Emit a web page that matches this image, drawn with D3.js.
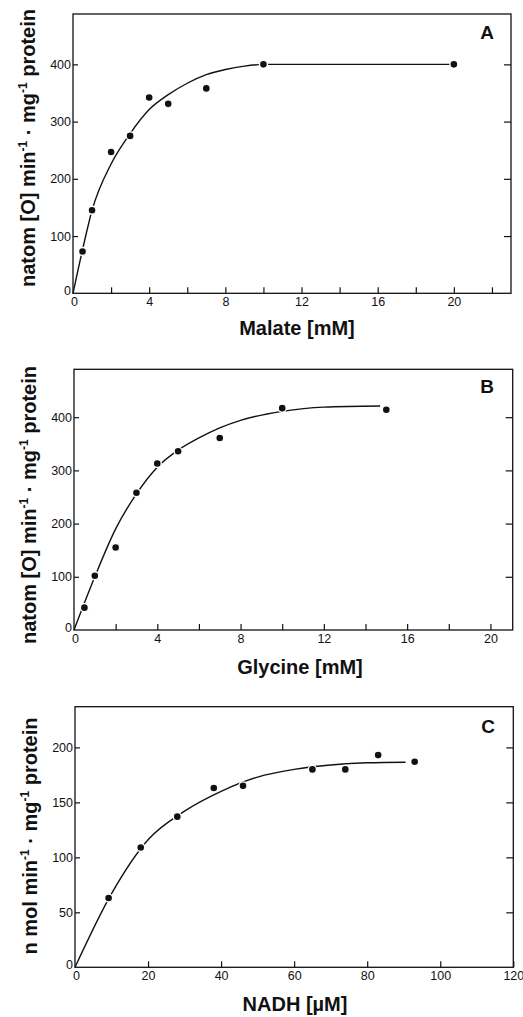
<!DOCTYPE html>
<html>
<head>
<meta charset="utf-8">
<script src="https://cdn.jsdelivr.net/npm/d3@7"></script>
<style>
  html, body { margin: 0; padding: 0; background: #fff; }
  svg { display: block; }
  text { font-family: "Liberation Sans", Arial, sans-serif; fill: #111; }
</style>
</head>
<body>
<svg id="chart" width="523" height="1017"></svg>
<script>
// ---- Data ----
// Panel A: Malate
const malateX = [0.5, 1, 2, 3, 4, 5, 7, 10, 20];
const malateY = [73, 145, 247, 275, 342, 331, 358, 400, 400];
const malateFitX = [0, 0.5, 1, 2, 3, 4, 5, 6, 7, 8, 9, 10, 20];
const malateFitY = [0, 76, 145, 226, 279, 321, 347, 367, 382, 391, 397, 400, 400];
const malateXTicks = [0, 4, 8, 12, 16, 20];
const malateXMinor = [2, 6, 10, 14, 18, 22];
const malateYTicks = [0, 100, 200, 300, 400];

// Panel B: Glycine
const glycineX = [0.5, 1, 2, 3, 4, 5, 7, 10, 15];
const glycineY = [42, 102, 155, 258, 313, 336, 361, 417, 414];
const glycineFitX = [0, 1, 2, 3, 4, 5, 6, 7, 8, 10, 12, 14.7];
const glycineFitY = [0, 100, 190, 256, 306, 338, 361, 380, 394, 411, 419, 421];
const glycineXTicks = [0, 4, 8, 12, 16, 20];
const glycineXMinor = [2, 6, 10, 14, 18];
const glycineYTicks = [0, 100, 200, 300, 400];

// Panel C: NADH
const nadhX = [9.2, 18, 28, 38, 46, 65, 74, 83, 93];
const nadhY = [63, 109, 137, 163, 165, 180, 180, 193, 187];
const nadhFitX = [0, 10, 20, 30, 40, 50, 60, 70, 80, 90.5];
const nadhFitY = [0, 67, 116, 142, 160, 173, 180, 184, 186, 186.5];
const nadhXTicks = [0, 20, 40, 60, 80, 100, 120];
const nadhXMinor = [];
const nadhYTicks = [0, 50, 100, 150, 200];

const svg = d3.select("#chart");

function panel(cfg) {
  const { left, right, top, bottom, xDom, yDom } = cfg;
  const x = d3.scaleLinear().domain(xDom).range([left, right]);
  const y = d3.scaleLinear().domain(yDom).range([bottom, top]);
  const g = svg.append("g");

  // frame
  g.append("rect").attr("x", left).attr("y", top)
    .attr("width", right - left).attr("height", bottom - top)
    .attr("fill", "none").attr("stroke", "#111").attr("stroke-width", 1.3);

  // bottom axis: ticks pointing inward (up), labels below
  const xAx = d3.axisBottom(x).tickValues(cfg.xTicks).tickSize(-6).tickPadding(4)
    .tickFormat(d3.format("d"));
  const gx = g.append("g").attr("transform", `translate(0,${bottom})`).call(xAx);
  gx.select(".domain").remove();
  gx.selectAll("line").attr("stroke", "#111").attr("stroke-width", 1.2);
  gx.selectAll("text").attr("font-size", 12.5).attr("dy", "0.71em").style("font-family", "'Liberation Sans', Arial, sans-serif").attr("fill", "#111");
  gx.selectAll(".tick").filter(d => d === 0).select("text").attr("dx", 1);
  gx.selectAll(".tick").filter(d => d === 0).select("line").remove();

  const xMin = d3.axisBottom(x).tickValues(cfg.xMinor).tickSize(-6).tickFormat("");
  const gxm = g.append("g").attr("transform", `translate(0,${bottom})`).call(xMin);
  gxm.select(".domain").remove();
  gxm.selectAll("line").attr("stroke", "#111").attr("stroke-width", 1.2);

  // left axis: short inward ticks, labels outside
  const yAx = d3.axisLeft(y).tickValues(cfg.yTicks).tickSize(-5).tickPadding(2)
    .tickFormat(d3.format("d"));
  const gy = g.append("g").attr("transform", `translate(${left},0)`).call(yAx);
  gy.select(".domain").remove();
  gy.selectAll("line").attr("stroke", "#111").attr("stroke-width", 1.2);
  gy.selectAll("text").attr("font-size", 12.5).style("font-family", "'Liberation Sans', Arial, sans-serif").attr("fill", "#111");
  gy.selectAll(".tick").filter(d => d === 0).select("line").remove();
  gy.selectAll(".tick").filter(d => d === 0).select("text").attr("dy", "0.1em");

  // right axis: inward ticks, no labels
  const yR = d3.axisRight(y).tickValues(cfg.yTicks.filter(d => d !== 0)).tickSize(-7).tickFormat("");
  const gr = g.append("g").attr("transform", `translate(${right},0)`).call(yR);
  gr.select(".domain").remove();
  gr.selectAll("line").attr("stroke", "#111").attr("stroke-width", 1.2);

  // fitted curve
  const fit = cfg.fitX.map((v, i) => [v, cfg.fitY[i]]);
  const line = d3.line().x(d => x(d[0])).y(d => y(d[1])).curve(d3.curveMonotoneX);
  g.append("path").attr("d", line(fit)).attr("fill", "none")
    .attr("stroke", "#111").attr("stroke-width", 1.4);

  // points
  const pts = cfg.px.map((v, i) => [v, cfg.py[i]]);
  g.selectAll("circle.pt").data(pts).join("circle").attr("class", "pt")
    .attr("cx", d => x(d[0])).attr("cy", d => y(d[1])).attr("r", 4)
    .attr("fill", "#111").attr("stroke", "#fff").attr("stroke-width", 1.4);

  // panel letter
  g.append("text").attr("x", cfg.letterX).attr("y", cfg.letterY)
    .attr("text-anchor", "middle").attr("font-size", 19).attr("font-weight", "bold")
    .text(cfg.letter);

  // x title
  const xt = g.append("text").attr("x", cfg.xTitleX).attr("y", cfg.xTitleY)
    .attr("text-anchor", "middle").attr("font-size", 20).attr("font-weight", "bold");
  xt.text(cfg.xTitle);

  // y title
  const yt = g.append("text")
    .attr("transform", `translate(${cfg.yTitleX},${cfg.yTitleY}) rotate(-90)`)
    .attr("text-anchor", "middle").attr("font-size", 20).attr("font-weight", "bold");
  cfg.yTitle.forEach(part => {
    const t = yt.append("tspan").text(part.t);
    if (part.sup) t.attr("font-size", 12).attr("baseline-shift", "65%");
  });
}

panel({
  left: 73, right: 511, top: 14, bottom: 293.3, xDom: [0, 23], yDom: [0, 488],
  xTicks: malateXTicks, xMinor: malateXMinor, yTicks: malateYTicks,
  px: malateX, py: malateY, fitX: malateFitX, fitY: malateFitY,
  letter: "A", letterX: 487, letterY: 39,
  xTitle: "Malate [mM]", xTitleX: 297, xTitleY: 335,
  yTitleX: 35, yTitleY: 148,
  yTitle: [{t: "natom [O] min"}, {t: "-1", sup: true}, {t: " · mg"}, {t: "-1", sup: true}, {t: " protein"}]
});

panel({
  left: 74, right: 512.7, top: 369.3, bottom: 630, xDom: [0, 21.07], yDom: [0, 490],
  xTicks: glycineXTicks, xMinor: glycineXMinor, yTicks: glycineYTicks,
  px: glycineX, py: glycineY, fitX: glycineFitX, fitY: glycineFitY,
  letter: "B", letterX: 487, letterY: 393,
  xTitle: "Glycine [mM]", xTitleX: 300, xTitleY: 674,
  yTitleX: 36, yTitleY: 505,
  yTitle: [{t: "natom [O] min"}, {t: "-1", sup: true}, {t: " · mg"}, {t: "-1", sup: true}, {t: " protein"}]
});

panel({
  left: 75, right: 513.3, top: 706.7, bottom: 967.3, xDom: [0, 120], yDom: [0, 237],
  xTicks: nadhXTicks, xMinor: nadhXMinor, yTicks: nadhYTicks,
  px: nadhX, py: nadhY, fitX: nadhFitX, fitY: nadhFitY,
  letter: "C", letterX: 488, letterY: 733,
  xTitle: "NADH [µM]", xTitleX: 295, xTitleY: 1011,
  yTitleX: 37, yTitleY: 836,
  yTitle: [{t: "n mol min"}, {t: "-1", sup: true}, {t: " · mg"}, {t: "-1", sup: true}, {t: " protein"}]
});
</script>
</body>
</html>
